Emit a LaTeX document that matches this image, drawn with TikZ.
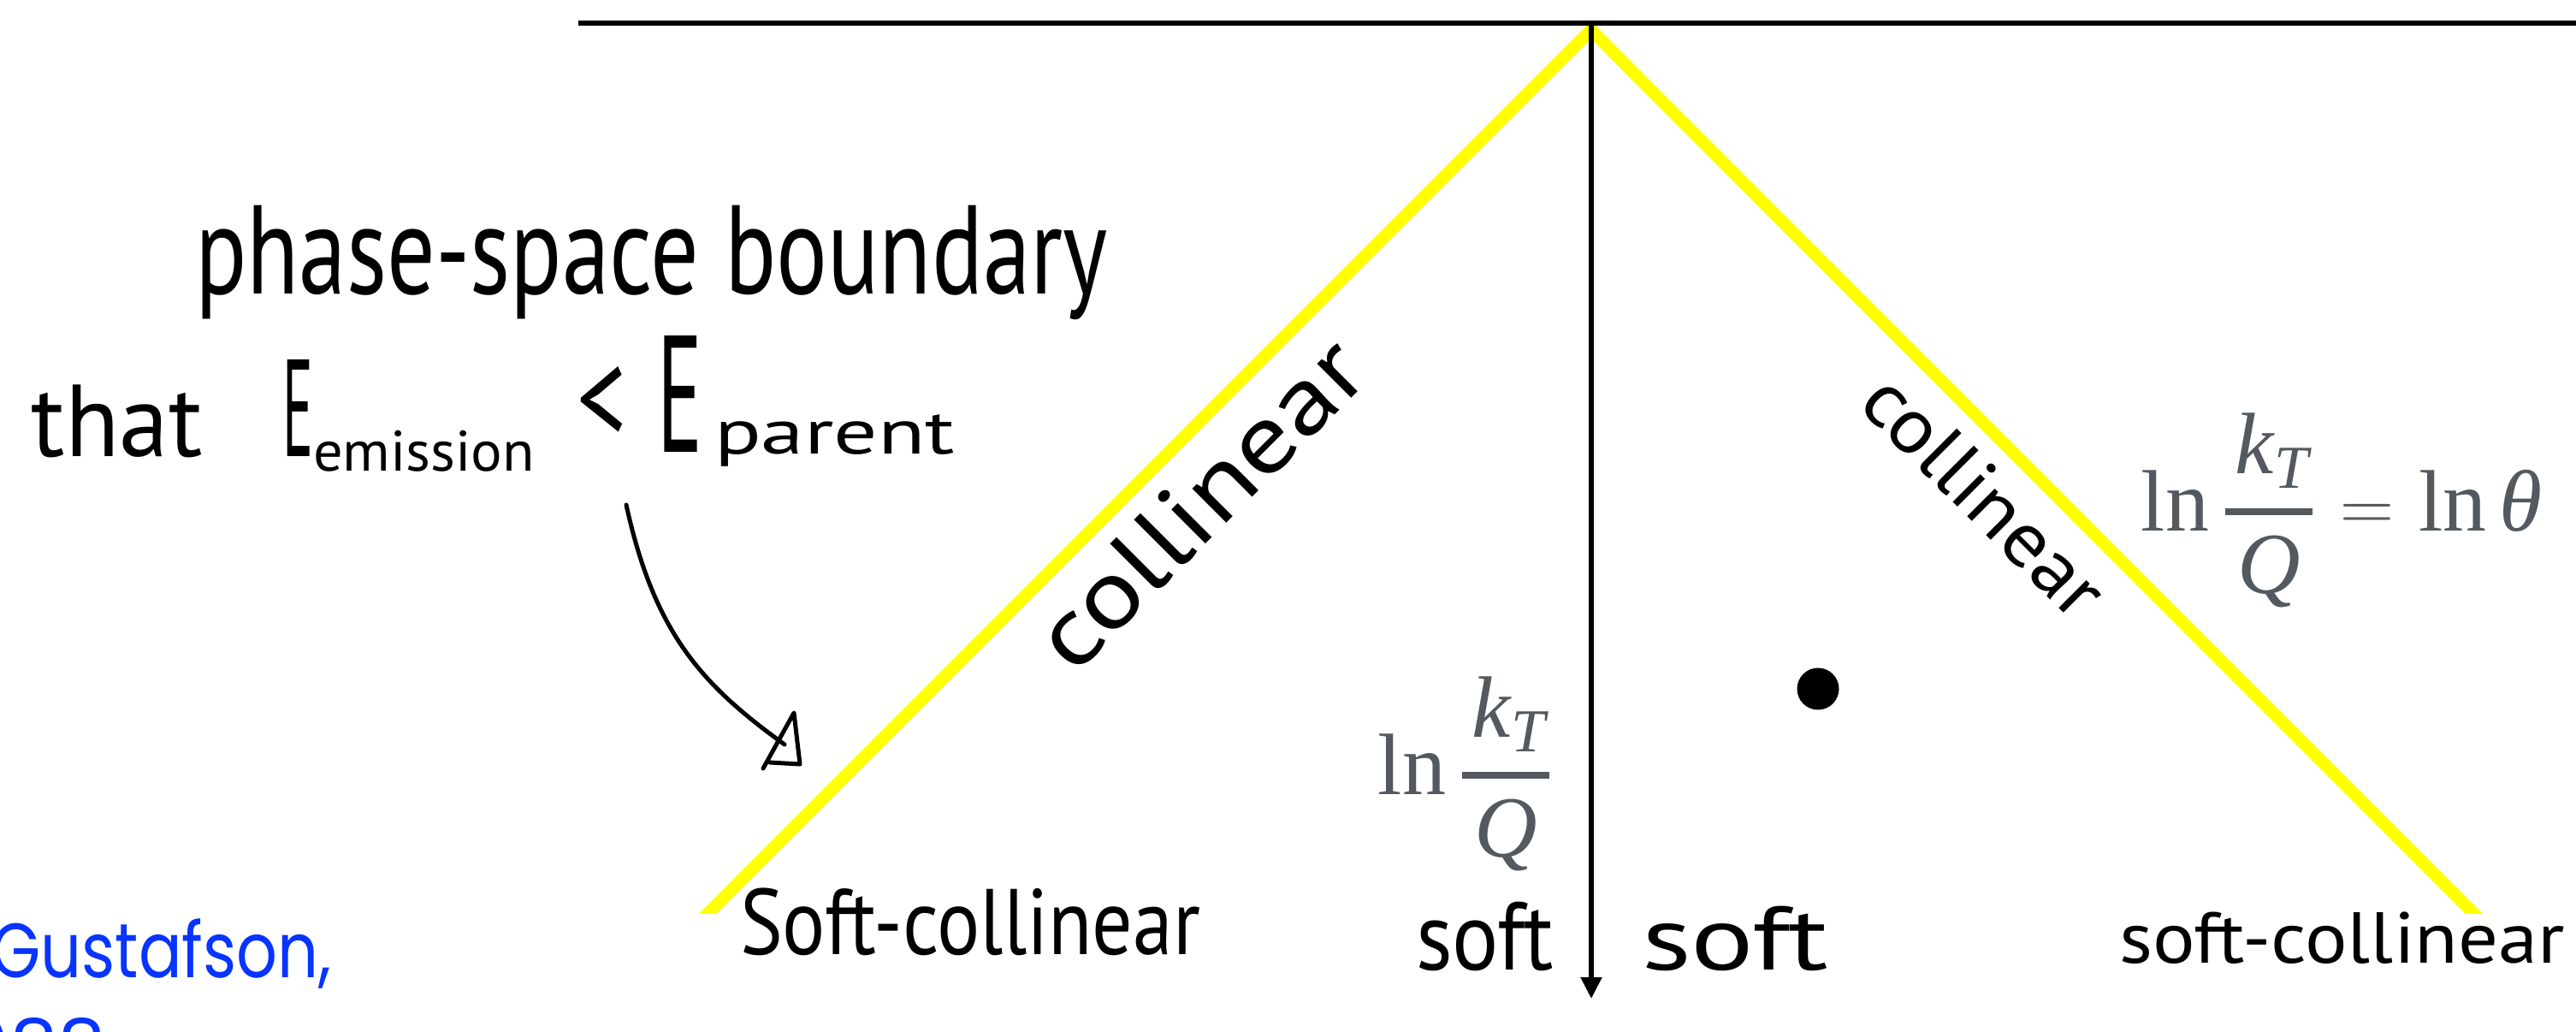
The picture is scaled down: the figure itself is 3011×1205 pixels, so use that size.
\documentclass[tikz,border=0pt]{standalone}
\usepackage{amsmath}
\usepackage{fontspec}
\setmainfont{Liberation Serif}
\newfontfamily\hand{PT Sans}
\newfontfamily\citefont{Poppins}
\usetikzlibrary{arrows.meta}
\definecolor{mathgray}{RGB}{84,89,96}
\definecolor{hiyellow}{RGB}{255,255,0}
\definecolor{citeblue}{RGB}{8,52,255}
\newcommand\handtext[3]{\resizebox{#1}{\height}{\fontsize{#2}{#2}\hand #3}}
\newcommand\kTQ{\genfrac{}{}{0.8mm}{0}{\kern1.2mm\mathit{k}_{\mathit{T}}\kern0.4mm}{\mathit{Q}}}
\begin{document}
\begin{tikzpicture}[x=0.1mm,y=-0.1mm,
  axisline/.style={line width=0.53mm, black},
  boundary/.style={line width=1.45mm, hiyellow, line join=miter},
  ink/.style={line width=0.5mm, black, line cap=round, line join=round},
  txt/.style={inner sep=0pt, outer sep=0pt, anchor=base west},
  mathlbl/.style={inner sep=0pt, anchor=base west, text=mathgray, font=\fontsize{29}{35}\selectfont},
  citetxt/.style={inner sep=0pt, text=citeblue},
]
\useasboundingbox (0,0) rectangle (3011,1205);
\clip (0,0) rectangle (3011,1205);

% coordinates
\coordinate (apex) at (1859.5,35);
\coordinate (lend) at (805,1090);
\coordinate (rend) at (2914,1090);
\coordinate (topL) at (676,27);
\coordinate (topR) at (3011,27);
\coordinate (axTop) at (1860,24);
\coordinate (axBot) at (1860,1167);

% yellow phase-space boundary
\begin{scope}
  \clip (0,0) rectangle (3011,1067);
  \draw[boundary] (lend) -- (apex) -- (rend);
\end{scope}

% axes
\draw[axisline] (topL) -- (topR);
\draw[axisline, -{Triangle[length=2.5mm,width=2.4mm]}] (axTop) -- (axBot);

% emission dot
\node[circle, fill=black, inner sep=0pt, minimum size=4.9mm] (dot) at (2125,805) {};

% math labels
\node[mathlbl] (lnl) at (1610,928) {$\ln\kTQ$};
\node[mathlbl] (lnr) at (2502,620) {$\ln\kTQ\mathrel{\kern0.4mm=\kern0.4mm}\ln\textit{θ}$};

% handwritten annotations
\node[txt] (phase) at (228,343) {\handtext{106.7mm}{42}{phase-space boundary}};
\node[txt] (that) at (37,533) {\handtext{20mm}{34}{that}};
\node[txt] (E1) at (330,533) {\resizebox{3.6mm}{11.3mm}{\hand E}};
\node[txt] (emission) at (366,550) {\handtext{25.9mm}{19}{emission}};
\node[inner sep=0pt] (lt) at (703,473) {\resizebox{5.8mm}{9mm}{\hand <}};
\node[txt] (E2) at (768,528) {\resizebox{5.3mm}{13.6mm}{\hand E}};
\node[txt] (parent) at (835,530) {\handtext{28.1mm}{21}{parent}};

\coordinate (cstart) at (732,590);
\coordinate (cend) at (917,870);
\draw[ink] (cstart) .. controls (765,740) and (820,800) .. (cend);
\draw[ink] (892,898) -- (928,833) -- (935,893) -- (900,891);

\node[txt, rotate=45] (collL) at (1255,790) {\handtext{49.4mm}{32}{collinear}};
\node[txt, rotate=-45] (collR) at (2170,474) {\handtext{36mm}{26}{collinear}};
\node[txt] (scL) at (865,1115) {\handtext{53.8mm}{31}{Soft-collinear}};
\node[txt] (softL) at (1655,1133) {\handtext{16.1mm}{32}{soft}};
\node[txt] (softR) at (1919,1133) {\handtext{21.8mm}{30}{soft}};
\node[txt] (scR) at (2477,1125) {\handtext{52.1mm}{24}{soft-collinear}};

% citation (cut off at the left edge)
\node[citetxt, anchor=base east] (cite1) at (388,1142) {\resizebox{39.8mm}{\height}{\fontsize{25.6}{30}\citefont Gustafson,}};
\node[citetxt, anchor=base west] (cite2) at (-75,1255) {\fontsize{25.6}{30}\citefont 1988};
\end{tikzpicture}
\end{document}
